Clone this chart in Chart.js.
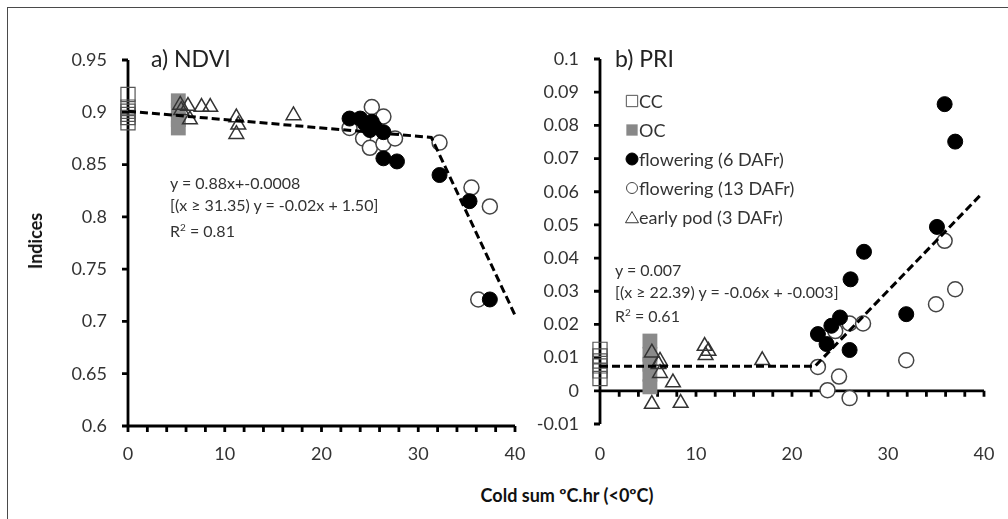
<!DOCTYPE html>
<html>
<head>
<meta charset="utf-8">
<script src="https://cdn.jsdelivr.net/npm/chart.js@4.4.1/dist/chart.umd.min.js"></script>
<style>
  body { margin: 0; width: 1008px; height: 519px; overflow: hidden; background: #fff; position: relative; font-family: Lato, sans-serif; color: #333; }
  .frame { position: absolute; left: 7px; top: 7px; width: 1200px; height: 700px; border-left: 1.5px solid #4a4a4a; border-top: 1.5px solid #4a4a4a; }
  .box { position: absolute; top: 0; }
  .txt { position: absolute; white-space: nowrap; line-height: 1; }
  .title { font-size: 23px; color: #222; }
  .eq { font-size: 16px; line-height: 22px; color: #333; }
  .axt { font-size: 18px; font-weight: bold; color: #111; }
</style>
</head>
<body>
<div class="frame"></div>
<div class="box" style="left:40px"><canvas id="ndvi" width="490" height="480"></canvas></div>
<div class="box" style="left:530px"><canvas id="pri" width="470" height="480"></canvas></div>

<div class="txt title" style="left:151px;top:47px">a) NDVI</div>
<div class="txt title" style="left:615px;top:47px">b) PRI</div>

<div class="txt eq" style="left:170px;top:172px">y = 0.88x+-0.0008<br>[(x ≥ 31.35) y = -0.02x + 1.50]<br>R<sup style="font-size:10px">2</sup> = 0.81</div>
<div class="txt eq" style="left:615px;top:259px;line-height:21.5px">y = 0.007<br>[(x ≥ 22.39) y = -0.06x + -0.003]<br>R<sup style="font-size:10px">2</sup> = 0.61</div>

<div class="txt axt" style="left:567px;top:486px;transform:translateX(-50%)">Cold sum ºC.hr (&lt;0ºC)</div>
<div class="txt axt" style="left:35px;top:241px;transform:translate(-50%,-50%) rotate(-90deg)">Indices</div>

<script>
// a) NDVI
const ndviCcX = [0, 0, 0, 0, 0, 0];
const ndviCcY = [0.917, 0.905, 0.901, 0.898, 0.895, 0.890];
const ndviOcX = [5.2, 5.2, 5.2, 5.2];
const ndviOcY = [0.911, 0.902, 0.893, 0.885];
const ndviPodX = [5.4, 5.5, 6.2, 6.4, 7.6, 8.5, 11.2, 11.4, 11.2, 17.1];
const ndviPodY = [0.907, 0.902, 0.906, 0.893, 0.905, 0.905, 0.895, 0.888, 0.879, 0.897];
const ndviF6X = [22.9, 24.0, 24.5, 25.2, 25.0, 25.5, 26.4, 26.4, 27.8, 32.2, 35.3, 37.4];
const ndviF6Y = [0.894, 0.894, 0.889, 0.891, 0.883, 0.886, 0.881, 0.856, 0.853, 0.840, 0.815, 0.721];
const ndviF13X = [25.2, 26.4, 22.9, 24.3, 25.0, 26.4, 27.6, 32.2, 35.5, 37.4, 36.2];
const ndviF13Y = [0.905, 0.896, 0.885, 0.875, 0.866, 0.870, 0.875, 0.871, 0.828, 0.810, 0.721];
const ndviFitX = [0, 31.35, 40];
const ndviFitY = [0.901, 0.876, 0.706];

// b) PRI
const priCcX = [0, 0, 0, 0, 0, 0];
const priCcY = [0.0125, 0.0105, 0.009, 0.0075, 0.006, 0.0037];
const priOcX = [5.2, 5.2, 5.2, 5.2, 5.2];
const priOcY = [0.015, 0.011, 0.008, 0.005, 0.0012];
const priPodX = [5.4, 6.25, 6.1, 6.25, 7.6, 5.4, 8.4, 10.9, 11.3, 11.0, 16.9];
const priPodY = [0.0115, 0.009, 0.008, 0.0053, 0.0025, -0.004, -0.0037, 0.0135, 0.012, 0.0107, 0.0092];
const priF6X = [22.7, 23.6, 24.1, 25.0, 26.0, 26.1, 27.5, 31.9, 35.1, 35.9, 37.0];
const priF6Y = [0.0171, 0.0141, 0.0196, 0.0221, 0.0123, 0.0336, 0.0419, 0.0231, 0.0494, 0.0864, 0.0751];
const priF13X = [22.7, 23.7, 24.9, 26.0, 24.5, 26.0, 27.4, 31.9, 35.0, 35.9, 37.0];
const priF13Y = [0.0072, 0.0002, 0.0043, -0.0022, 0.018, 0.0203, 0.0203, 0.0092, 0.0261, 0.0452, 0.0306];
const priFitX = [0, 22.39, 39.7];
const priFitY = [0.0074, 0.0074, 0.0592];

const legendLabels = ['CC', 'OC', 'flowering (6 DAFr)', 'flowering (13 DAFr)', 'early pod (3 DAFr)'];

Chart.defaults.font.family = 'Lato, sans-serif';
Chart.defaults.color = '#333';

function pts(xs, ys) {
    return xs.map((x, i) => ({ x: x, y: ys[i] }));
}

// axis lines + small tick marks, drawn through the scales
const axisLines = {
    id: 'axisLines',
    beforeDatasetsDraw(chart, args, opts) {
        const { ctx, chartArea: a, scales: { x, y } } = chart;
        const yAt = y.getPixelForValue(opts.crossY);
        ctx.save();
        ctx.strokeStyle = '#000';
        ctx.lineWidth = 2.8;
        ctx.beginPath();
        ctx.moveTo(a.left, a.top);
        ctx.lineTo(a.left, a.bottom);
        y.ticks.forEach(t => {
            const py = y.getPixelForValue(t.value);
            ctx.moveTo(a.left - 6, py);
            ctx.lineTo(a.left, py);
        });
        ctx.moveTo(a.left, yAt);
        ctx.lineTo(a.right, yAt);
        for (let v = x.min; v <= x.max; v += 2) {
            const px = x.getPixelForValue(v);
            ctx.moveTo(px, yAt);
            ctx.lineTo(px, yAt + 6);
        }
        ctx.stroke();
        ctx.restore();
    }
};

// legend inside panel b
const priLegend = {
    id: 'priLegend',
    afterDraw(chart, args, opts) {
        if (!opts.show) return;
        const ctx = chart.ctx;
        const styles = [
            { s: 'rect', r: 8, fill: '#fff', stroke: '#555', w: 1.2 },
            { s: 'rect', r: 8, fill: '#888', stroke: '#888', w: 0 },
            { s: 'circle', r: 6, fill: '#000', stroke: '#000', w: 1 },
            { s: 'circle', r: 5.5, fill: '#fff', stroke: '#444', w: 1.3 },
            { s: 'triangle', r: 7.5, fill: 'rgba(0,0,0,0)', stroke: '#333', w: 1.2 }
        ];
        ctx.save();
        ctx.font = '18px Lato, sans-serif';
        ctx.textBaseline = 'middle';
        legendLabels.forEach((lab, i) => {
            const yy = 101 + i * 29;
            const st = styles[i];
            ctx.fillStyle = st.fill;
            ctx.strokeStyle = st.stroke;
            Chart.helpers.drawPoint(ctx, { pointStyle: st.s, radius: st.r, borderWidth: st.w, rotation: 0 }, 102, yy + (st.s === 'triangle' ? 2 : 0));
            ctx.fillStyle = '#333';
            ctx.fillText(lab, 109, yy + 1);
        });
        ctx.restore();
    }
};

function makeChart(id, d, c) {
    const ctx = document.getElementById(id).getContext('2d');
    return new Chart(ctx, {
        type: 'scatter',
        data: {
            datasets: [
                { type: 'line', data: pts(d.fitX, d.fitY), borderColor: '#000', borderWidth: 3, borderDash: [8, 4], pointRadius: 0, fill: false, tension: 0, order: 0, clip: false },
                { data: pts(d.f6X, d.f6Y), pointStyle: 'circle', pointRadius: 7.5, backgroundColor: '#000', borderColor: '#000', borderWidth: 1, order: 1, clip: false },
                { data: pts(d.f13X, d.f13Y), pointStyle: 'circle', pointRadius: 7.5, backgroundColor: '#fff', borderColor: '#444', borderWidth: 1.5, order: 2, clip: false },
                { data: pts(d.podX, d.podY), pointStyle: 'triangle', pointRadius: 8.5, backgroundColor: 'rgba(0,0,0,0)', borderColor: '#333', borderWidth: 1.5, order: 3, clip: false },
                { data: pts(d.ocX, d.ocY), pointStyle: 'rect', pointRadius: 10.5, backgroundColor: '#8a8a8a', borderColor: '#8a8a8a', borderWidth: 0, order: 4, clip: false },
                { data: pts(d.ccX, d.ccY), pointStyle: 'rect', pointRadius: 10, backgroundColor: 'rgba(255,255,255,0)', borderColor: '#555', borderWidth: 1.2, order: 5, clip: false }
            ]
        },
        options: {
            responsive: false,
            animation: false,
            layout: { autoPadding: false, padding: { top: c.top, right: c.right } },
            plugins: {
                legend: { display: false },
                tooltip: { enabled: false },
                axisLines: { crossY: c.crossY },
                priLegend: { show: c.legend }
            },
            scales: {
                x: {
                    type: 'linear', min: 0, max: 40,
                    afterFit: s => { s.height = c.xHeight; },
                    grid: { display: false, drawTicks: true, tickLength: c.xPad },
                    border: { display: false },
                    ticks: { stepSize: 10, padding: 0, font: { size: 18 }, color: '#333' }
                },
                y: {
                    type: 'linear', min: c.yMin, max: c.yMax,
                    afterFit: s => { s.width = c.yWidth; },
                    grid: { display: false, drawTicks: true, tickLength: 21 },
                    border: { display: false },
                    ticks: { stepSize: c.yStep, padding: 0, font: { size: 18 }, color: '#333', callback: v => String(+v.toFixed(3)) }
                }
            }
        },
        plugins: [axisLines, priLegend]
    });
}

makeChart('ndvi', {
    ccX: ndviCcX, ccY: ndviCcY, ocX: ndviOcX, ocY: ndviOcY, podX: ndviPodX, podY: ndviPodY,
    f6X: ndviF6X, f6Y: ndviF6Y, f13X: ndviF13X, f13Y: ndviF13Y, fitX: ndviFitX, fitY: ndviFitY
}, { yMin: 0.6, yMax: 0.95, yStep: 0.05, crossY: 0.6, top: 60, right: 15, yWidth: 88, xHeight: 54, xPad: 17, legend: false });

makeChart('pri', {
    ccX: priCcX, ccY: priCcY, ocX: priOcX, ocY: priOcY, podX: priPodX, podY: priPodY,
    f6X: priF6X, f6Y: priF6Y, f13X: priF13X, f13Y: priF13Y, fitX: priFitX, fitY: priFitY
}, { yMin: -0.01, yMax: 0.1, yStep: 0.01, crossY: 0, top: 59, right: 16, yWidth: 70, xHeight: 56, xPad: 19, legend: true });
</script>
</body>
</html>
